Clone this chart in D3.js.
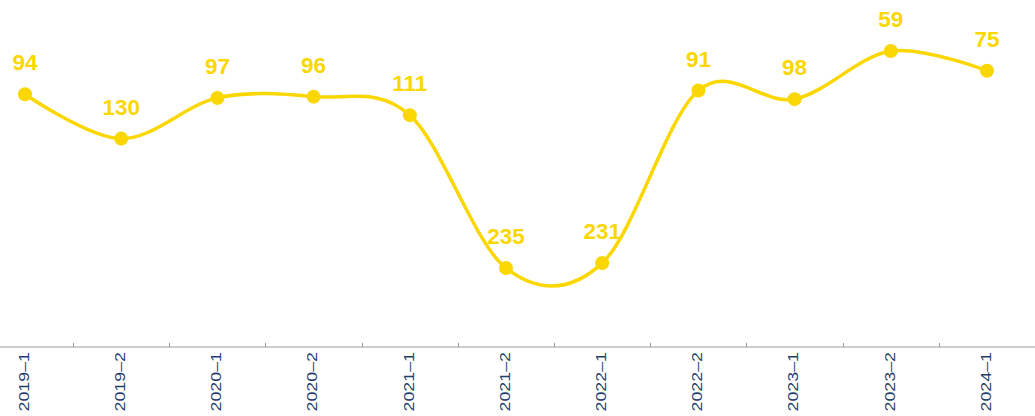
<!DOCTYPE html>
<html>
<head>
<meta charset="utf-8">
<script src="https://cdn.jsdelivr.net/npm/d3@7"></script>
<style>
html,body{margin:0;padding:0;background:#fff;}
svg{display:block;}
</style>
</head>
<body>
<svg id="chart" width="1035" height="416"></svg>
<script>
const categories = ["2019–1","2019–2","2020–1","2020–2","2021–1","2021–2","2022–1","2022–2","2023–1","2023–2","2024–1"];
const values = [94,130,97,96,111,235,231,91,98,59,75];

const W = 1035, H = 416;
const svg = d3.select("#chart");
const yellow = "#fad700";

const x = d3.scaleBand().domain(categories).range([-23.1, 1035.1]).paddingInner(0).paddingOuter(0);
const cx = d => x(d) + x.bandwidth() / 2;
const y = d3.scaleLinear().domain([0, 300]).range([-21.7, 348.2]);

const axisY = 347;
svg.append("line").attr("x1", 0).attr("x2", W).attr("y1", axisY).attr("y2", axisY)
  .attr("stroke", "#9a9a9a").attr("stroke-width", 1);

svg.append("g").selectAll("line").data(categories.slice(1)).join("line")
  .attr("x1", d => Math.round(x(d)) + 0.5).attr("x2", d => Math.round(x(d)) + 0.5)
  .attr("y1", axisY - 4).attr("y2", axisY)
  .attr("stroke", "#9a9a9a").attr("stroke-width", 1);

svg.append("g").selectAll("text").data(categories).join("text")
  .attr("transform", d => `translate(${cx(d) + 3.8},${axisY + 5}) rotate(-90) scale(1.19,1)`)
  .attr("text-anchor", "end")
  .attr("font-family", "'Liberation Sans', Arial, sans-serif")
  .attr("font-size", 15)
  .attr("fill", "#1f3d6e")
  .text(d => d);

const pts = categories.map((c, i) => ({c, v: values[i]}));

const line = d3.line().x(d => cx(d.c)).y(d => y(d.v)).curve(d3.curveCardinal.tension(0));
svg.append("path").datum(pts).attr("d", line)
  .attr("fill", "none").attr("stroke", yellow).attr("stroke-width", 3.5);

svg.append("g").selectAll("circle").data(pts).join("circle")
  .attr("cx", d => cx(d.c)).attr("cy", d => y(d.v)).attr("r", 7)
  .attr("fill", yellow);

svg.append("g").selectAll("text").data(pts).join("text")
  .attr("x", d => cx(d.c)).attr("y", d => y(d.v) - 24)
  .attr("text-anchor", "middle")
  .attr("font-family", "'Liberation Sans', Arial, sans-serif")
  .attr("font-weight", "bold")
  .attr("font-size", 22.5)
  .attr("fill", yellow)
  .text(d => d.v);
</script>
</body>
</html>
